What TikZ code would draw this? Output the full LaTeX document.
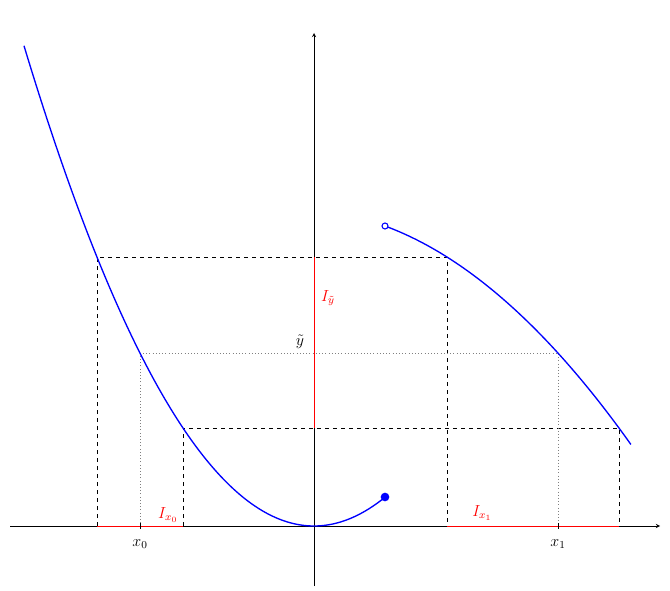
\documentclass[tikz,border=0pt]{standalone}
\begin{document}
\begin{tikzpicture}[x=0.75pt,y=-0.75pt,
  axis/.style={->,>=stealth,thin},
  curve/.style={blue,line width=1pt},
  dashl/.style={dashed,thin},
  dotl/.style={dotted,gray,thin},
  interval/.style={red,thin},
  lab/.style={font=\large}]
\useasboundingbox (0,0) rectangle (670,591);
% axes
\coordinate (O) at (314,526);
\coordinate (xl) at (10,526);
\coordinate (xr) at (660,526);
\coordinate (yb) at (314,586);
\coordinate (yt) at (314,33);
% points on curve
\coordinate (A) at (97,257);
\coordinate (B) at (183,428);
\coordinate (C) at (140,353);
\coordinate (D) at (447,257);
\coordinate (E) at (619,428);
\coordinate (F) at (558,353);
\coordinate (Ax) at (97,526);
\coordinate (Bx) at (183,526);
\coordinate (Cx) at (140,526);
\coordinate (Dx) at (447,526);
\coordinate (Ex) at (619,526);
\coordinate (Fx) at (558,526);
\coordinate (Ay) at (314,257);
\coordinate (By) at (314,428);
\coordinate (Cy) at (314,353);
% dashed and dotted guides
\draw[dashl] (Ax) -- (A) -- (D) -- (Dx);
\draw[dashl] (Bx) -- (B) -- (E) -- (Ex);
\draw[dotl] (Cx) -- (C) -- (F) -- (Fx);
\draw[axis] (xl) -- (xr);
\draw[axis] (yb) -- (yt);
% intervals
\draw[interval] (Ax) -- (Bx);
\draw[interval] (Dx) -- (Ex);
\draw[interval] (Ay) -- (By);
% ticks
\draw[thin] (140,523) -- (140,529);
\draw[thin] (558,523) -- (558,529);
% curves
\draw[curve] plot[variable=\t,domain=-2.9:0.71,samples=120,smooth] ({314+100*\t},{526-57.1*\t*\t});
\draw[curve] plot[variable=\t,domain=0.74:3.17,samples=80,smooth] ({314+100*\t},{526-315.6+7.0*\t+21.1*\t*\t});
\node[circle,fill=blue,inner sep=0pt,minimum size=6.5pt] (dotf) at (385,497) {};
\node[circle,draw=blue,fill=white,thick,inner sep=0pt,minimum size=4.5pt] (doto) at (385,226) {};
% labels
\node[lab,text=red] (lx0) at (168,515) {$I_{x_0}$};
\node[lab,text=red] (lx1) at (482,513) {$I_{x_1}$};
\node[lab,text=red] (ly) at (328,298) {$I_{\tilde y}$};
\node[lab] (ylab) at (300,342) {$\tilde y$};
\node[lab] (x0) at (140,544) {$x_0$};
\node[lab] (x1) at (558,544) {$x_1$};
\end{tikzpicture}
\end{document}
